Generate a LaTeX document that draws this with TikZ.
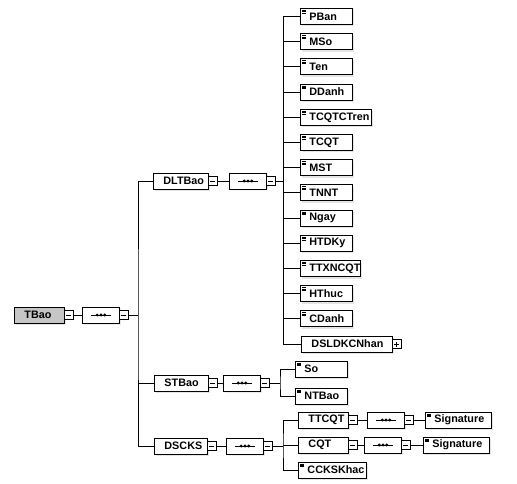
\documentclass[tikz,border=0pt]{standalone}
\usepackage{fontspec}
\setmainfont{Liberation Sans}
\usetikzlibrary{shapes.misc,shadows}
\setlength{\parindent}{0pt}
\hyphenpenalty=10000
\exhyphenpenalty=10000
\begin{document}
\begin{tikzpicture}[x=1pt,y=-1pt,
  every node/.style={font=\fontsize{10.8}{12}\selectfont\bfseries},
  base/.style={draw, line width=0.9pt, anchor=west, minimum height=16pt,
    inner xsep=0pt, inner ysep=0pt, fill=white, align=left,
    general shadow={fill=gray!20, shadow xshift=2pt, shadow yshift=-2pt}},
  cplx/.style={base, text width=#1, execute at begin node={\hspace*{10pt}}},
  simp/.style={base, text width=#1, execute at begin node={\hspace*{9pt}},
    path picture={
      \foreach \k in {0,1.4,2.8}
        \draw[black, line width=0.5pt] ([xshift=2pt,yshift={-1.8pt-\k pt}]path picture bounding box.north west) -- ++(4,0);}},
  mbox/.style={draw, line width=0.7pt, minimum size=9pt, inner sep=0pt, anchor=west, fill=white,
    path picture={\draw[black, line width=0.7pt] ([xshift=2pt]path picture bounding box.west) -- ([xshift=-2pt]path picture bounding box.east);}},
  pbox/.style={draw, line width=0.7pt, minimum size=9pt, inner sep=0pt, anchor=west, fill=white,
    path picture={
      \draw[black, line width=0.7pt] ([xshift=2pt]path picture bounding box.west) -- ([xshift=-2pt]path picture bounding box.east);
      \draw[black, line width=0.7pt] ([yshift=-2pt]path picture bounding box.north) -- ([yshift=2pt]path picture bounding box.south);}},
  comp/.style={draw, line width=0.9pt, chamfered rectangle, chamfered rectangle xsep=5pt,
    chamfered rectangle ysep=4pt, minimum width=37pt, minimum height=16pt, inner sep=0pt,
    anchor=west, fill=white,
    general shadow={fill=gray!20, shadow xshift=1.5pt, shadow yshift=-1.5pt},
    path picture={
      \draw[black, line width=0.8pt] ([xshift=-10pt]path picture bounding box.center) -- ([xshift=10pt]path picture bounding box.center);
      \foreach \d in {-3.8,0,3.8}
        \fill[black] ([xshift=\d pt]path picture bounding box.center) circle (1.6pt);}},
  conn/.style={line width=0.9pt}
]
\useasboundingbox (0,0) rectangle (517,484);

% root
\node[cplx=50pt, fill=gray!45] (tbao) at (14,315) {TBao};
\node[mbox] (tbaom) at ([xshift=-1pt]tbao.east) {};
\node[comp] (tbaoc) at (82,315) {};
\node[mbox] (tbaocm) at ([xshift=-1pt]tbaoc.east) {};
\draw[conn] (tbaom) -- (tbaoc);
\coordinate (bus1) at (138,315);
\draw[conn] (tbaocm.east) -- (bus1);

% level 1
\node[cplx=55pt] (dltbao) at (153,181) {DLTBao};
\node[mbox] (dltbaom) at ([xshift=-1pt]dltbao.east) {};
\node[comp] (dltbaoc) at (229,181) {};
\node[mbox] (dltbaocm) at ([xshift=-1pt]dltbaoc.east) {};
\draw[conn] (dltbaom) -- (dltbaoc);

\node[cplx=54pt] (stbao) at (154,383) {STBao};
\node[mbox] (stbaom) at ([xshift=-1pt]stbao.east) {};
\node[comp] (stbaoc) at (223,383) {};
\node[mbox] (stbaocm) at ([xshift=-1pt]stbaoc.east) {};
\draw[conn] (stbaom) -- (stbaoc);

\node[cplx=53pt] (dscks) at (154,446) {DSCKS};
\node[mbox] (dscksm) at ([xshift=-1pt]dscks.east) {};
\node[comp] (dscksc) at (226,446) {};
\node[mbox] (dsckscm) at ([xshift=-1pt]dscksc.east) {};
\draw[conn] (dscksm) -- (dscksc);

\draw[conn] (dltbao.west) -| (bus1) |- (dscks.west);
\draw[conn] (stbao.west) -- (stbao.west -| bus1);

% DLTBao children
\coordinate (bus2) at (283,181);
\draw[conn] (dltbaocm.east) -- (bus2);
\node[simp=52pt] (c0) at (300,16.5) {PBan};
\node[simp=52pt] (c1) at (300,41.7) {MSo};
\node[simp=52pt] (c2) at (300,66.9) {Ten};
\node[simp=52pt] (c3) at (300,92.1) {DDanh};
\node[simp=71pt] (c4) at (300,117.3) {TCQTCTren};
\node[simp=52pt] (c5) at (300,142.5) {TCQT};
\node[simp=52pt] (c6) at (300,167.7) {MST};
\node[simp=52pt] (c7) at (300,192.9) {TNNT};
\node[simp=52pt] (c8) at (300,218.1) {Ngay};
\node[simp=52pt] (c9) at (300,243.3) {HTDKy};
\node[simp=60pt] (c10) at (300,268.5) {TTXNCQT};
\node[simp=52pt] (c11) at (300,293.7) {HThuc};
\node[simp=52pt] (c12) at (300,318.9) {CDanh};
\node[cplx=91pt] (c13) at (301,344) {DSLDKCNhan};
\node[pbox] (c13p) at ([xshift=-1pt]c13.east) {};
\draw[conn] (c0.west -| bus2) -- (c13.west -| bus2);
\foreach \c in {c0,c1,c2,c3,c4,c5,c6,c7,c8,c9,c10,c11,c12,c13}
  \draw[conn] (\c.west) -- (\c.west -| bus2);

% STBao children
\coordinate (bus3) at (280,383);
\draw[conn] (stbaocm.east) -- (bus3);
\node[simp=52pt] (so) at (295,369) {So};
\node[simp=52pt] (ntbao) at (295,396) {NTBao};
\draw[conn] (so.west) -| (bus3) |- (ntbao.west);

% DSCKS children
\coordinate (bus4) at (283,446);
\draw[conn] (dsckscm.east) -- (bus4);
\node[cplx=50pt] (ttcqt) at (298,420) {TTCQT};
\node[mbox] (ttcqtm) at ([xshift=-1pt]ttcqt.east) {};
\node[cplx=50pt] (cqt) at (298,445) {CQT};
\node[mbox] (cqtm) at ([xshift=-1pt]cqt.east) {};
\node[simp=68pt] (ccks) at (298,470) {CCKSKhac};
\draw[conn] (ttcqt.west) -| (bus4) |- (ccks.west);
\draw[conn] (cqt.west) -- (cqt.west -| bus4);

% Signatures
\node[comp] (ttcqtc) at (367,420) {};
\node[mbox] (ttcqtcm) at ([xshift=-1pt]ttcqtc.east) {};
\node[simp=66pt] (sig1) at (425,420) {Signature};
\draw[conn] (ttcqtm) -- (ttcqtc);
\draw[conn] (ttcqtcm) -- (sig1);

\node[comp] (cqtc) at (364,445) {};
\node[mbox] (cqtcm) at ([xshift=-1pt]cqtc.east) {};
\node[simp=66pt] (sig2) at (423,445) {Signature};
\draw[conn] (cqtm) -- (cqtc);
\draw[conn] (cqtcm) -- (sig2);
\end{tikzpicture}
\end{document}
